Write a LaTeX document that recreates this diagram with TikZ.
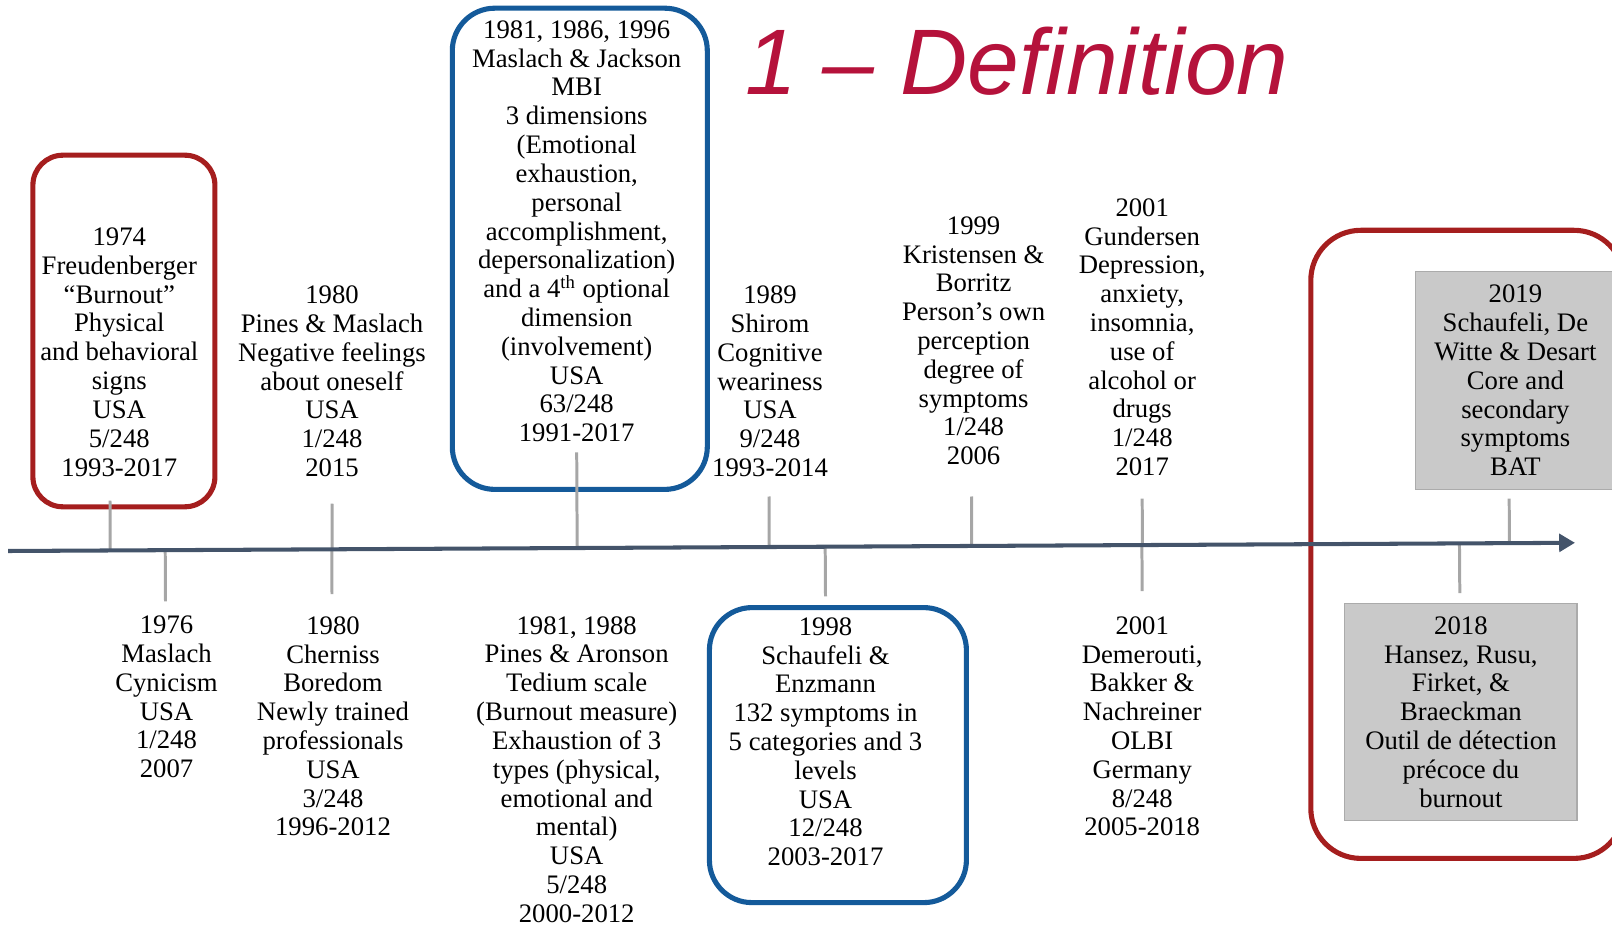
\documentclass[tikz,border=0pt]{standalone}
\usepackage{fontspec}
\setmainfont{Liberation Serif}
\newfontfamily\bodyfont{Liberation Serif}
\newfontfamily\titlefont{Liberation Sans}
\usetikzlibrary{arrows.meta, calc}
\definecolor{axisline}{HTML}{44546A}
\definecolor{tickgray}{HTML}{A6A6A6}
\definecolor{titlered}{HTML}{B5123B}
\definecolor{framered}{HTML}{A51E1E}
\definecolor{frameblue}{HTML}{145A9A}
\definecolor{boxgray}{HTML}{C9C9C9}
\definecolor{boxedge}{HTML}{ABABAB}

\begin{document}
\begin{tikzpicture}[
    x=0.02cm, y=-0.02cm,
    font=\bodyfont\fontsize{15.2}{16.4}\selectfont,
    entry/.style={align=center, inner sep=0pt, text=black},
    shaded_entry/.style={rectangle, draw=boxedge, fill=boxgray, line width=0.8pt, align=center, inner sep=0pt},
    red_frame/.style={draw=framered, line width=2.9pt, rounded corners=0.6cm},
    blue_frame/.style={draw=frameblue, line width=2.9pt, rounded corners=0.85cm},
    yeartick/.style={draw=tickgray, line width=1.7pt},
    timeline/.style={-{Triangle[length=9pt, width=10pt]}, line width=2.3pt, draw=axisline}
]
    \useasboundingbox (0,0) rectangle (1612,925);
    \clip (0,0) rectangle (1612,925);

    % Title
    \node[anchor=base west, inner sep=0pt, text=titlered, font=\titlefont\itshape\fontsize{53}{60}\selectfont] (title) at (745,94.6) {1 – Definition};

    % Entries above the time line
    \node[entry] (n1974) at (119.3,352.1) {1974\\Freudenberger\\“Burnout”\\Physical\\and behavioral\\signs\\USA\\5/248\\1993-2017};
    \node[entry] (n1980a) at (332,381.4) {1980\\Pines \& Maslach\\Negative feelings\\about oneself\\USA\\1/248\\2015};
    \node[entry] (n1981a) at (576.7,231.3) {1981, 1986, 1996\\Maslach \& Jackson\\MBI\\3 dimensions\\(Emotional\\exhaustion,\\personal\\accomplishment,\\depersonalization)\\and a 4\textsuperscript{th} optional\\dimension\\(involvement)\\USA\\63/248\\1991-2017};
    \node[entry] (n1989) at (770,381.4) {1989\\Shirom\\Cognitive\\weariness\\USA\\9/248\\1993-2014};
    \node[entry] (n1999) at (973.6,340.8) {1999\\Kristensen \&\\Borritz\\Person’s own\\perception\\degree of\\symptoms\\1/248\\2006};
    \node[entry] (n2001a) at (1142.2,337.2) {2001\\Gundersen\\Depression,\\anxiety,\\insomnia,\\use of\\alcohol or\\drugs\\1/248\\2017};
    \node[shaded_entry, minimum width=4cm, minimum height=4.36cm] (n2019) at (1515.4,380.4) {2019\\Schaufeli, De\\Witte \& Desart\\Core and\\secondary\\symptoms\\BAT};

    % Entries below the time line
    \node[entry] (n1976) at (166.5,697) {1976\\Maslach\\Cynicism\\USA\\1/248\\2007};
    \node[entry] (n1980b) at (333,726.3) {1980\\Cherniss\\Boredom\\Newly trained\\professionals\\USA\\3/248\\1996-2012};
    \node[entry] (n1981b) at (576.7,769.5) {1981, 1988\\Pines \& Aronson\\Tedium scale\\(Burnout measure)\\Exhaustion of 3\\types (physical,\\emotional and\\mental)\\USA\\5/248\\2000-2012};
    \node[entry] (n1998) at (825.5,741.8) {1998\\Schaufeli \&\\Enzmann\\132 symptoms in\\5 categories and 3\\levels\\USA\\12/248\\2003-2017};
    \node[entry] (n2001b) at (1142.2,726.3) {2001\\Demerouti,\\Bakker \&\\Nachreiner\\OLBI\\Germany\\8/248\\2005-2018};
    \node[shaded_entry, minimum width=4.65cm, minimum height=4.34cm] (n2018) at (1460.9,712) {2018\\Hansez, Rusu,\\Firket, \&\\Braeckman\\Outil de détection\\précoce du\\burnout};

    % Frames
    \draw[red_frame] (32.9,155.2) rectangle (214.9,506.8);
    \draw[blue_frame] (452.3,8.2) rectangle (707.3,489.4);
    \draw[blue_frame] (709.4,607.6) rectangle (966.4,902.6);
    \draw[red_frame, rounded corners=1cm] (1310.8,230.3) rectangle (1624,858.4);

    % Time line
    \coordinate (axL) at (8.2,551);
    \coordinate (axR) at (1575,542.8);

    % Tick ends
    \coordinate (k1974) at (110,500.6);
    \coordinate (k1980a) at (332,503.7);
    \coordinate (k1981a) at (576.7,452.3);
    \coordinate (k1989) at (769,496.5);
    \coordinate (k1999) at (971.5,496.5);
    \coordinate (k2001a) at (1142.2,498.6);
    \coordinate (k2019) at (1509.2,498.6);
    \coordinate (k1976) at (165.5,601.4);
    \coordinate (k1980b) at (332,594.2);
    \coordinate (k1998) at (825.5,596.3);
    \coordinate (k2001b) at (1142.2,591.1);
    \coordinate (k2018) at (1459.8,593.2);

    \foreach \k in {k1974,k1980a,k1981a,k1989,k1999,k2001a,k2019,k1976,k1980b,k1998,k2001b,k2018}
        \draw[yeartick] (\k) -- ($(axL)!(\k)!(axR)$);

    \draw[timeline] (axL) -- (axR);

\end{tikzpicture}
\end{document}
